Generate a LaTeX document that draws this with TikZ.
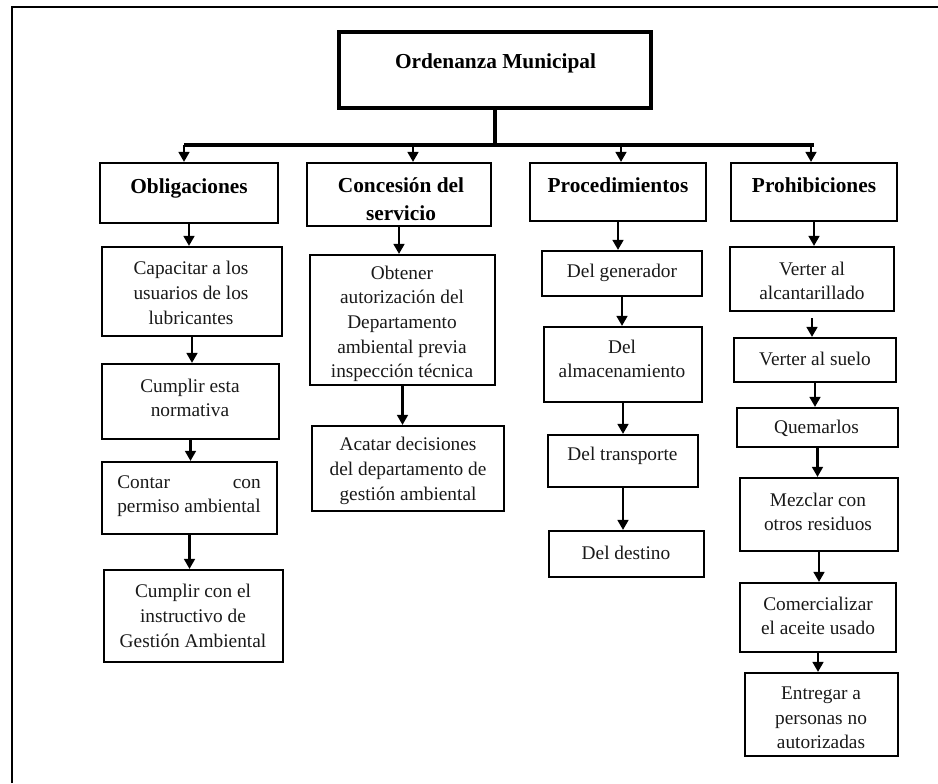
\documentclass[tikz,border=0pt]{standalone}
\usepackage{fontspec}
\setmainfont{Liberation Serif}
\usetikzlibrary{arrows.meta}
\newlength\cpw
% \bx[style]{name}{x1}{y1}{x2}{y2}
\newcommand{\bx}[6][boxst]{%
  \node[#1,minimum width={(#5-#3)*0.75pt},minimum height={(#6-#4)*0.75pt}] (#2) at ({(#3+#5)/2},{(#4+#6)/2}) {};}
\begin{document}
\begin{tikzpicture}[x=0.75pt,y=-0.75pt,
  boxst/.style={draw=black,line width=1.6pt,inner sep=0pt},
  mainbox/.style={draw=black,line width=2.8pt,inner sep=0pt},
  txt/.style={align=center,inner sep=0pt,text=black!90,font=\fontsize{14.5}{18.5}\selectfont},
  head/.style={align=center,inner sep=0pt,text=black,font=\fontsize{16}{21}\selectfont\bfseries},
  conn/.style={line width=1.8pt,-{Triangle[length=7.5pt,width=8pt]}},
  bus/.style={line width=2.6pt},
  frameline/.style={line width=0.8pt}
]
\useasboundingbox (0,0) rectangle (938,783);
% frame
\coordinate (fbl) at (12,783);
\coordinate (ftl) at (12,7);
\coordinate (ftr) at (938,7);
\draw[frameline] (fbl) -- (ftl) -- (ftr);

% main box
\bx[mainbox]{ord}{339}{32}{651}{108}
\node[head] (ordt) at (495.5,63) {Ordenanza Municipal};

% headings
\bx{obl}{100}{163}{278}{223}
\node[head] (oblt) at (189,188) {Obligaciones};
\bx{con}{307}{163}{491}{226}
\node[head] (cont) at (401,199) {Concesión del\\servicio};
\bx{pro}{530}{163}{706}{221}
\node[head] (prot) at (618,185) {Procedimientos};
\bx{prh}{731}{163}{897}{221}
\node[head] (prht) at (814,185) {Prohibiciones};

% bus
\coordinate (bj) at (495,145);
\coordinate (bl) at (184,145);
\coordinate (br) at (814,145);
\coordinate (b2) at (413,145);
\coordinate (b3) at (621,145);
\coordinate (b4) at (811,145);
\draw[bus] (ord.south) -- (bj);
\draw[bus] (bl) -- (br);
\draw[conn] (bl) -- (bl |- obl.north);
\draw[conn] (b2) -- (b2 |- con.north);
\draw[conn] (b3) -- (b3 |- pro.north);
\draw[conn] (b4) -- (b4 |- prh.north);

% Obligaciones column
\bx{cap}{102}{247}{282}{336}
\node[txt] (capt) at (191,293) {Capacitar a los\\usuarios de los\\lubricantes};
\bx{cum}{102}{364}{279}{439}
\node[txt] (cumt) at (190,398) {Cumplir esta\\normativa};
\bx{cta}{102}{462}{277}{534}
\node[txt,font=\fontsize{14.5}{18.5}\selectfont\settowidth\cpw{permiso ambiental}] (ctat) at (189,496) {\makebox[\cpw][s]{Contar\hfill con}\\permiso ambiental};
\bx{cce}{104}{570}{283}{662}
\node[txt] (ccet) at (193,616) {Cumplir con el\\instructivo de\\Gestión Ambiental};

\draw[conn] (obl.south) -- (obl.south |- cap.north);
\draw[conn] (cap.south) -- (cap.south |- cum.north);
\draw[conn] (cum.south) -- (cum.south |- cta.north);
\draw[conn] (cta.south) -- (cta.south |- cce.north);

% Concesion column
\bx{obt}{310}{255}{495}{385}
\node[txt] (obtt) at (402,324) {Obtener\\autorización del\\Departamento\\ambiental previa\\inspección técnica};
\bx{aca}{312}{426}{504}{511}
\node[txt] (acat) at (408,471) {Acatar decisiones\\del departamento de\\gestión ambiental};
\draw[conn] (con.south) -- (con.south |- obt.north);
\draw[conn] (obt.south) -- (obt.south |- aca.north);

% Procedimientos column
\bx{gen}{542}{251}{702}{296}
\node[txt] (gent) at (622,273) {Del generador};
\bx{alm}{544}{327}{702}{402}
\node[txt] (almt) at (622,359) {Del\\almacenamiento};
\bx{tra}{548}{435}{698}{487}
\node[txt] (trat) at (622.5,456) {Del transporte};
\bx{des}{549}{531}{704}{577}
\node[txt] (dest) at (626,553) {Del destino};
\draw[conn] (pro.south) -- (pro.south |- gen.north);
\draw[conn] (gen.south) -- (gen.south |- alm.north);
\draw[conn] (alm.south) -- (alm.south |- tra.north);
\draw[conn] (tra.south) -- (tra.south |- des.north);

% Prohibiciones column
\bx{val}{730}{247}{894}{311}
\node[txt] (valt) at (812,281) {Verter al\\alcantarillado};
\bx{vas}{734}{338}{896}{382}
\node[txt] (vast) at (815,359) {Verter al suelo};
\bx{que}{737}{408}{898}{447}
\node[txt] (quet) at (816.5,428) {Quemarlos};
\bx{mez}{740}{478}{898}{551}
\node[txt] (mezt) at (818,512) {Mezclar con\\otros residuos};
\bx{com}{740}{583}{896}{652}
\node[txt] (comt) at (818,616) {Comercializar\\el aceite usado};
\bx{ent}{745}{673}{898}{756}
\node[txt] (entt) at (821,718) {Entregar a\\personas no\\autorizadas};
\draw[conn] (prh.south) -- (prh.south |- val.north);
\draw[conn] ([yshift=-4.5pt]val.south) -- (val.south |- vas.north);
\draw[conn] (vas.south) -- (vas.south |- que.north);
\draw[conn] (que.south) -- (que.south |- mez.north);
\draw[conn] (mez.south) -- (mez.south |- com.north);
\draw[conn] (com.south) -- (com.south |- ent.north);
\end{tikzpicture}
\end{document}
